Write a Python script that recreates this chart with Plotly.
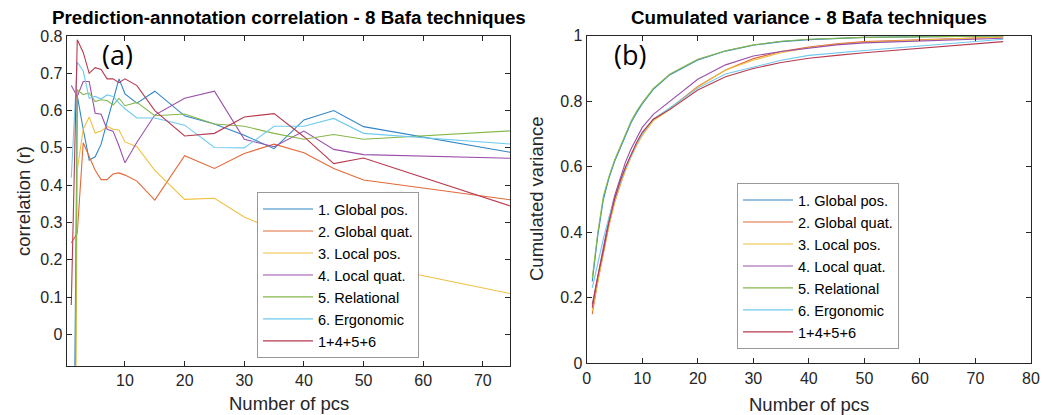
import plotly.graph_objects as go

W, H = 1043, 415

# ---------------- data ----------------
pcs = [1, 2, 3, 4, 5, 6, 7, 8, 9, 10, 12, 15, 20, 25, 30, 35, 40, 45, 50, 75]
names = ["1. Global pos.", "2. Global quat.", "3. Local pos.", "4. Local quat.",
         "5. Relational", "6. Ergonomic", "1+4+5+6"]

# (a) Prediction-annotation correlation
corr_global_pos = [-1.17, 0.64, 0.55, 0.467, 0.476, 0.51, 0.57, 0.63, 0.685, 0.645,
                   0.62, 0.652, 0.586, 0.564, 0.534, 0.498, 0.575, 0.60, 0.557, 0.487]
corr_global_quat = [0.245, 0.271, 0.514, 0.476, 0.44, 0.415, 0.415, 0.43, 0.433, 0.427,
                    0.411, 0.36, 0.479, 0.445, 0.485, 0.51, 0.487, 0.445, 0.414, 0.36]
corr_local_pos = [-2.18, 0.44, 0.55, 0.583, 0.54, 0.545, 0.558, 0.55, 0.548, 0.516,
                  0.503, 0.44, 0.362, 0.365, 0.315, 0.28, 0.25, 0.22, 0.19, 0.108]
corr_local_quat = [0.667, 0.638, 0.678, 0.678, 0.593, 0.59, 0.55, 0.545, 0.505, 0.46,
                   0.515, 0.588, 0.633, 0.652, 0.523, 0.503, 0.545, 0.496, 0.482, 0.472]
corr_relational = [-1.81, 0.656, 0.643, 0.647, 0.624, 0.629, 0.627, 0.615, 0.633, 0.613,
                   0.622, 0.586, 0.591, 0.564, 0.558, 0.539, 0.523, 0.536, 0.523, 0.546]
corr_ergonomic = [0.42, 0.73, 0.706, 0.633, 0.638, 0.631, 0.642, 0.638, 0.62, 0.605,
                  0.58, 0.58, 0.561, 0.501, 0.50, 0.558, 0.558, 0.579, 0.539, 0.51]
corr_combo = [0.079, 0.79, 0.756, 0.70, 0.715, 0.71, 0.685, 0.685, 0.675, 0.685,
              0.667, 0.60, 0.532, 0.539, 0.583, 0.592, 0.53, 0.458, 0.473, 0.342]

# (b) Cumulated variance
var_global_pos = [0.25, 0.39, 0.50, 0.565, 0.615, 0.655, 0.695, 0.735, 0.765, 0.792,
                  0.836, 0.881, 0.926, 0.953, 0.971, 0.982, 0.988, 0.992, 0.995, 0.999]
var_global_quat = [0.15, 0.25, 0.335, 0.42, 0.49, 0.545, 0.595, 0.635, 0.67, 0.70,
                   0.745, 0.778, 0.845, 0.895, 0.93, 0.952, 0.965, 0.975, 0.982, 0.996]
var_local_pos = [0.16, 0.255, 0.34, 0.42, 0.49, 0.545, 0.59, 0.63, 0.665, 0.695,
                 0.74, 0.775, 0.843, 0.895, 0.925, 0.948, 0.963, 0.973, 0.98, 0.996]
var_local_quat = [0.18, 0.27, 0.35, 0.44, 0.51, 0.565, 0.615, 0.655, 0.69, 0.72,
                  0.76, 0.80, 0.867, 0.911, 0.938, 0.952, 0.963, 0.972, 0.978, 0.992]
var_relational = [0.26, 0.40, 0.51, 0.57, 0.62, 0.66, 0.70, 0.74, 0.77, 0.795,
                  0.839, 0.883, 0.928, 0.954, 0.972, 0.983, 0.989, 0.993, 0.995, 0.999]
var_ergonomic = [0.23, 0.31, 0.38, 0.445, 0.50, 0.55, 0.595, 0.635, 0.67, 0.70,
                 0.745, 0.78, 0.84, 0.883, 0.905, 0.925, 0.94, 0.948, 0.955, 0.989]
var_combo = [0.17, 0.265, 0.345, 0.43, 0.50, 0.555, 0.60, 0.64, 0.675, 0.705,
             0.745, 0.775, 0.834, 0.875, 0.90, 0.918, 0.931, 0.94, 0.948, 0.982]

left_ticks = [0, 0.1, 0.2, 0.3, 0.4, 0.5, 0.6, 0.7, 0.8]
left_ticklabels = ["0", "0.1", "0.2", "0.3", "0.4", "0.5", "0.6", "0.7", "0.8"]
right_ticks = [0, 0.2, 0.4, 0.6, 0.8, 1]
right_ticklabels = ["0", "0.2", "0.4", "0.6", "0.8", "1"]

colors = ["#2f86c6", "#e06a3a", "#f0c040", "#9a50aa", "#86b84a", "#6fcaf0", "#b83a50"]

corr_series = [corr_global_pos, corr_global_quat, corr_local_pos, corr_local_quat,
               corr_relational, corr_ergonomic, corr_combo]
var_series = [var_global_pos, var_global_quat, var_local_pos, var_local_quat,
              var_relational, var_ergonomic, var_combo]

# ---------------- figure ----------------
fig = go.Figure()
for nm, ys, c in zip(names, corr_series, colors):
    fig.add_trace(go.Scatter(x=pcs, y=ys, mode="lines", name=nm,
                             line=dict(color=c, width=1.1),
                             xaxis="x", yaxis="y", legend="legend"))
for nm, ys, c in zip(names, var_series, colors):
    fig.add_trace(go.Scatter(x=pcs, y=ys, mode="lines", name=nm,
                             line=dict(color=c, width=1.1),
                             xaxis="x2", yaxis="y2", legend="legend2"))

FONT = "Liberation Sans, Arial, sans-serif"
axcol = "#262626"

def px_x(p):
    return p / W

def px_y(p):
    return 1 - p / H

common = dict(showgrid=False, zeroline=False, showline=True, mirror="ticks",
              linecolor=axcol, linewidth=1, ticks="inside", ticklen=5,
              tickcolor=axcol, automargin=False,
              tickfont=dict(family=FONT, size=16, color=axcol))

legend_common = dict(xanchor="left", yanchor="top",
                     bgcolor="white", bordercolor="#999999", borderwidth=1,
                     font=dict(family=FONT, size=14.6, color="black"),
                     itemwidth=50, tracegroupgap=0)

fig.update_layout(
    template="none",
    width=W, height=H,
    margin=dict(l=0, r=0, t=0, b=0, autoexpand=False),
    paper_bgcolor="white", plot_bgcolor="white",
    font=dict(family=FONT, color=axcol),
    xaxis=dict(domain=[px_x(66.7), px_x(510.3)], range=[0.23, 74.6],
               tickvals=[10, 20, 30, 40, 50, 60, 70], anchor="y", **common),
    yaxis=dict(domain=[px_y(365.7), px_y(36)], range=[-0.084, 0.8],
               tickvals=left_ticks, ticktext=left_ticklabels, anchor="x", **common),
    xaxis2=dict(domain=[px_x(586.7), px_x(1031)], range=[0, 80],
                tickvals=[0, 10, 20, 30, 40, 50, 60, 70, 80], anchor="y2", **common),
    yaxis2=dict(domain=[px_y(363.3), px_y(35.7)], range=[0, 1],
                tickvals=right_ticks, ticktext=right_ticklabels, anchor="x2", **common),
    legend=dict(x=px_x(257), y=px_y(192), **legend_common),
    legend2=dict(x=px_x(737), y=px_y(183), **legend_common),
    showlegend=True,
)

ann = []
ann.append(dict(text="<b>Prediction-annotation correlation - 8 Bafa techniques</b>",
                x=px_x(288.5), y=px_y(17), xref="paper", yref="paper",
                showarrow=False, font=dict(family=FONT, size=18.8, color="black"),
                xanchor="center", yanchor="middle"))
ann.append(dict(text="<b>Cumulated variance - 8 Bafa techniques</b>",
                x=px_x(809), y=px_y(17), xref="paper", yref="paper",
                showarrow=False, font=dict(family=FONT, size=18.8, color="black"),
                xanchor="center", yanchor="middle"))
ann.append(dict(text="Number of pcs", x=px_x(288.5), y=px_y(403), xref="paper", yref="paper",
                showarrow=False, font=dict(family=FONT, size=18.5, color=axcol),
                xanchor="center", yanchor="middle"))
ann.append(dict(text="Number of pcs", x=px_x(809), y=px_y(404), xref="paper", yref="paper",
                showarrow=False, font=dict(family=FONT, size=18.5, color=axcol),
                xanchor="center", yanchor="middle"))
ann.append(dict(text="correlation (r)", x=px_x(23), y=px_y(201), xref="paper", yref="paper",
                showarrow=False, textangle=-90, font=dict(family=FONT, size=18.5, color=axcol),
                xanchor="center", yanchor="middle"))
ann.append(dict(text="Cumulated variance", x=px_x(537), y=px_y(199), xref="paper", yref="paper",
                showarrow=False, textangle=-90, font=dict(family=FONT, size=18.5, color=axcol),
                xanchor="center", yanchor="middle"))
ann.append(dict(text="(a)", x=px_x(117), y=px_y(55), xref="paper", yref="paper",
                showarrow=False, font=dict(family="Open Sans, sans-serif", size=27, color="black"),
                xanchor="center", yanchor="middle"))
ann.append(dict(text="(b)", x=px_x(630), y=px_y(55), xref="paper", yref="paper",
                showarrow=False, font=dict(family="Open Sans, sans-serif", size=27, color="black"),
                xanchor="center", yanchor="middle"))
fig.update_layout(annotations=ann)

fig.write_html("out.html",
               config={"displayModeBar": False},
               post_script="document.body.style.margin='0px';document.body.style.overflow='hidden';")
